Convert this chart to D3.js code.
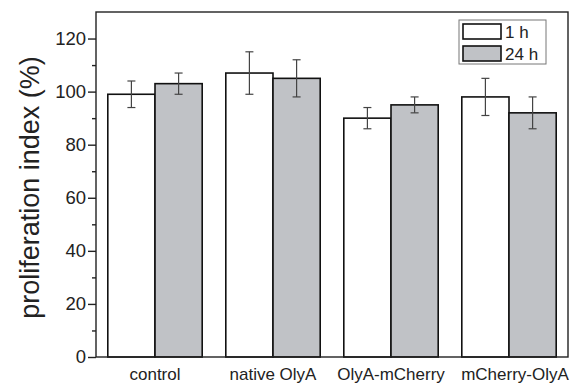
<!DOCTYPE html>
<html>
<head>
<meta charset="utf-8">
<script src="https://cdn.jsdelivr.net/npm/d3@7"></script>
<style>
  body { margin: 0; background: #fff; }
  svg { font-family: Arial, "Liberation Sans", sans-serif; }
</style>
</head>
<body>
<div id="chart"></div>
<script>
const categories = ["control", "native OlyA", "OlyA-mCherry", "mCherry-OlyA"];
const series = ["1 h", "24 h"];
const values1h = [99, 107, 90, 98];
const errors1h = [5, 8, 4, 7];
const values24h = [103, 105, 95, 92];
const errors24h = [4, 7, 3, 6];
const yTicks = [0, 20, 40, 60, 80, 100, 120];

const width = 574, height = 385;
const margin = { top: 12, right: 6, bottom: 28, left: 96 };
const innerW = width - margin.left - margin.right;
const innerH = height - margin.top - margin.bottom;
const colors = { "1 h": "#ffffff", "24 h": "#c0c2c6" };

const svg = d3.select("#chart").append("svg")
  .attr("width", width).attr("height", height);
const g = svg.append("g").attr("transform", `translate(${margin.left},${margin.top})`);

const x = d3.scaleBand().domain(categories).range([0, innerW]).paddingInner(0.2).paddingOuter(0.1);
const xs = d3.scaleBand().domain(series).range([0, x.bandwidth()]);
const y = d3.scaleLinear().domain([0, 130]).range([innerH, 0]);

const data = [];
categories.forEach((c, i) => {
  data.push({ cat: c, s: "1 h", v: values1h[i], e: errors1h[i] });
  data.push({ cat: c, s: "24 h", v: values24h[i], e: errors24h[i] });
});

// Barres
g.selectAll("rect.bar").data(data).enter().append("rect")
  .attr("class", "bar")
  .attr("x", d => x(d.cat) + xs(d.s))
  .attr("y", d => y(d.v))
  .attr("width", xs.bandwidth())
  .attr("height", d => y(0) - y(d.v))
  .attr("fill", d => colors[d.s])
  .attr("stroke", "#111")
  .attr("stroke-width", 1.6);

// Barres d'erreur
const eb = g.selectAll("g.err").data(data).enter().append("g")
  .attr("stroke", "#444").attr("stroke-width", 1.2);
const cx = d => x(d.cat) + xs(d.s) + xs.bandwidth() / 2;
eb.append("line").attr("x1", cx).attr("x2", cx)
  .attr("y1", d => y(d.v + d.e)).attr("y2", d => y(d.v - d.e));
eb.append("line").attr("x1", d => cx(d) - 4).attr("x2", d => cx(d) + 4)
  .attr("y1", d => y(d.v + d.e)).attr("y2", d => y(d.v + d.e));
eb.append("line").attr("x1", d => cx(d) - 4).attr("x2", d => cx(d) + 4)
  .attr("y1", d => y(d.v - d.e)).attr("y2", d => y(d.v - d.e));

// Cadre
g.append("rect").attr("width", innerW).attr("height", innerH)
  .attr("fill", "none").attr("stroke", "#222").attr("stroke-width", 1.4);

// Axe Y
const yAxis = g.append("g")
  .call(d3.axisLeft(y).tickValues(yTicks).tickSize(8).tickPadding(2))
  .call(a => a.select(".domain").remove());
yAxis.selectAll("text").style("font-size", "18.5px").attr("fill", "#222");
yAxis.selectAll("line").attr("stroke", "#222").attr("stroke-width", 1.4);

const yMinor = g.append("g")
  .call(d3.axisLeft(y).tickValues(d3.range(10, 130, 20)).tickSize(4).tickFormat(""))
  .call(a => a.select(".domain").remove());
yMinor.selectAll("line").attr("stroke", "#222").attr("stroke-width", 1.4);

// Axe X
const xAxis = g.append("g").attr("transform", `translate(0,${innerH})`)
  .call(d3.axisBottom(x).tickSize(0).tickPadding(11))
  .call(a => a.select(".domain").remove());
xAxis.selectAll("text").style("font-size", "17px").attr("fill", "#222");
xAxis.selectAll(".tick").filter(d => d === "mCherry-OlyA").select("text").attr("dx", 6);

// Label Y
svg.append("text")
  .attr("transform", `translate(39,${margin.top + innerH / 2 + 3}) rotate(-90)`)
  .attr("text-anchor", "middle")
  .style("font-size", "27px")
  .attr("fill", "#222")
  .text("proliferation index (%)");

// Légende
const lg = svg.append("g").attr("transform", "translate(459,20)");
lg.append("rect").attr("width", 87).attr("height", 44)
  .attr("fill", "#fff").attr("stroke", "#777").attr("stroke-width", 1);
series.forEach((s, i) => {
  lg.append("rect").attr("x", 4).attr("y", 4 + i * 22).attr("width", 38).attr("height", 15)
    .attr("fill", colors[s]).attr("stroke", "#111").attr("stroke-width", 1.6);
  lg.append("text").attr("x", 46).attr("y", 18 + i * 22)
    .style("font-size", "17px").attr("fill", "#222").text(s);
});
</script>
</body>
</html>
